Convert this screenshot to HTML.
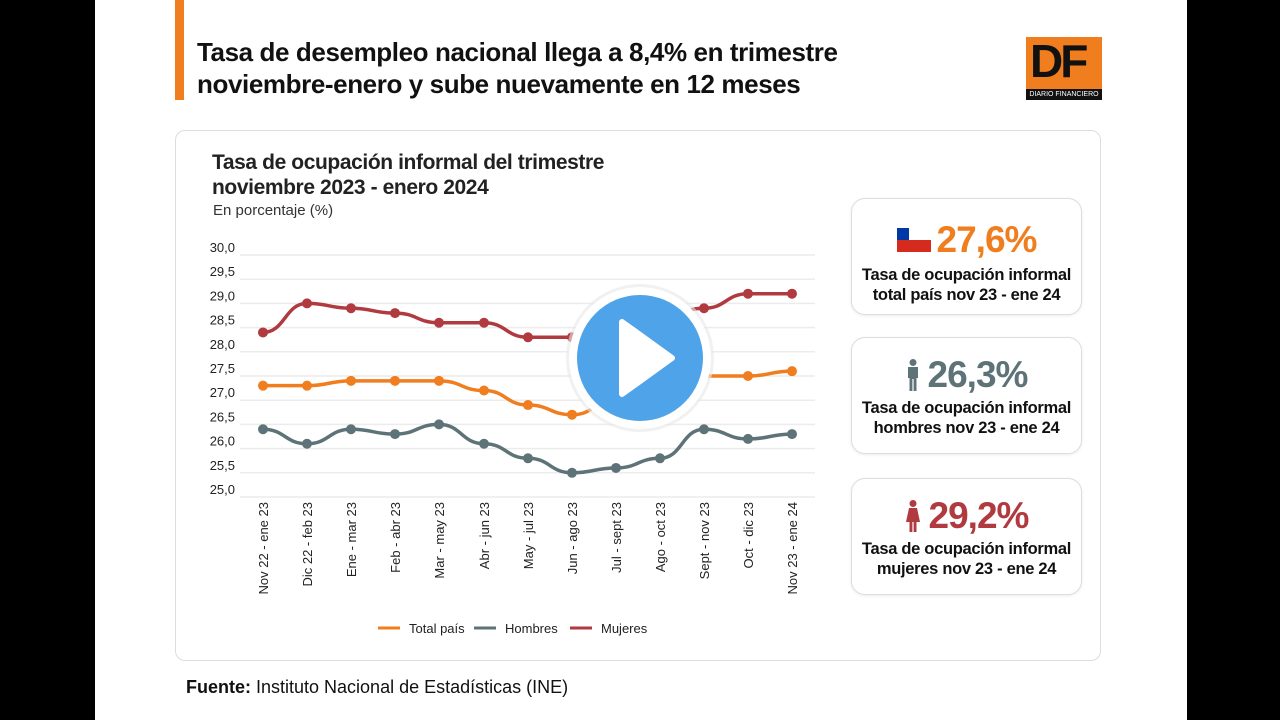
<!DOCTYPE html>
<html><head><meta charset="utf-8"><style>
body{margin:0;width:1280px;height:720px;background:#000;font-family:"Liberation Sans",sans-serif;overflow:hidden}
#pg{position:absolute;left:95px;top:0;width:1092px;height:720px;background:#fff}
.abs{position:absolute}
.box{position:absolute;left:851px;width:229px;border:1.5px solid #ddd;border-radius:14px;background:#fff;text-align:center;box-shadow:0 1px 3px rgba(0,0,0,.08)}
.big{font-size:37px;font-weight:bold;letter-spacing:-1px}
.sm{font-size:16.5px;font-weight:bold;color:#111;line-height:20px;letter-spacing:-0.3px}
</style></head><body>
<div id="pg"></div>
<div class="abs" style="left:175px;top:0;width:9px;height:100px;background:#f07d1e"></div>
<div class="abs" style="left:197px;top:36px;font-size:26px;font-weight:bold;line-height:32px;color:#111;letter-spacing:-0.4px">Tasa de desempleo nacional llega a 8,4% en trimestre<br>noviembre-enero y sube nuevamente en 12 meses</div>
<div class="abs" style="left:1026px;top:37px;width:76px;height:63px;background:#f07d1e"></div>
<div class="abs" style="left:1030px;top:34px;font-size:46px;font-weight:bold;color:#111;letter-spacing:-3px">DF</div>
<div class="abs" style="left:1026px;top:89px;width:76px;height:11px;background:#111;color:#fff;font-size:7px;line-height:11px;text-align:center">DIARIO FINANCIERO</div>
<div class="abs" style="left:175px;top:130px;width:924px;height:529px;border:1.5px solid #ddd;border-radius:10px"></div>
<div class="abs" style="left:212px;top:150px;font-size:21px;font-weight:bold;line-height:25px;color:#222;letter-spacing:-0.4px">Tasa de ocupación informal del trimestre<br>noviembre 2023 - enero 2024</div>
<div class="abs" style="left:213px;top:202px;font-size:15px;color:#333">En porcentaje (%)</div>
<svg class="abs" style="left:0;top:0" width="1280" height="720" id="ch"></svg>
<div class="box" style="top:198px;height:115px"><div style="margin-top:20px"><span style="display:inline-block;width:34px;height:24px;vertical-align:middle;margin-right:6px;position:relative;background:linear-gradient(#fff 50%,#d52b1e 50%)"><span style="position:absolute;left:0;top:0;width:12px;height:12px;background:#0039a6"></span></span><span class="big" style="color:#f07d1e;vertical-align:middle">27,6%</span></div><div class="sm" style="margin-top:4px">Tasa de ocupación informal<br>total país nov 23 - ene 24</div></div>
<div class="box" style="top:337px;height:115px"><div style="margin-top:16px"><svg width="14" height="32" viewBox="0 0 14 32" style="vertical-align:middle;margin-right:8px"><circle cx="7" cy="3.5" r="3.5" fill="#5e7378"/><path d="M2,8 H12 V19 H10.5 V32 H7.6 V20 H6.4 V32 H3.5 V19 H2 Z" fill="#5e7378"/></svg><span class="big" style="color:#5e7378;vertical-align:middle">26,3%</span></div><div class="sm" style="margin-top:2px">Tasa de ocupación informal<br>hombres nov 23 - ene 24</div></div>
<div class="box" style="top:478px;height:115px"><div style="margin-top:16px"><svg width="16" height="32" viewBox="0 0 16 32" style="vertical-align:middle;margin-right:8px"><circle cx="8" cy="3.5" r="3.5" fill="#b03a3f"/><path d="M4,8 H12 L15,22 H11.5 V32 H8.6 V22 H7.4 V32 H4.5 V22 H1 Z" fill="#b03a3f"/></svg><span class="big" style="color:#b03a3f;vertical-align:middle">29,2%</span></div><div class="sm" style="margin-top:2px">Tasa de ocupación informal<br>mujeres nov 23 - ene 24</div></div>
<div class="abs" style="left:186px;top:677px;font-size:18px;color:#111"><b>Fuente:</b> Instituto Nacional de Estadísticas (INE)</div>
<script>
var s='',X=[263,307,351,395,439,484,528,572,616,660,704,748,792];
function Y(v){return 255+(30-v)*48.4}
for(var i=0;i<=10;i++){var v=30-i*0.5,y=Y(v);s+='<line x1="240" x2="815" y1="'+y+'" y2="'+y+'" stroke="#ececec" stroke-width="1.5"/>';s+='<text x="235" y="'+(y-3)+'" text-anchor="end" font-size="13" fill="#222">'+v.toFixed(1).replace('.',',')+'</text>';}
var L=['Nov 22 - ene 23','Dic 22 - feb 23','Ene - mar 23','Feb - abr 23','Mar - may 23','Abr - jun 23','May - jul 23','Jun - ago 23','Jul - sept 23','Ago - oct 23','Sept - nov 23','Oct - dic 23','Nov 23 - ene 24'];
L.forEach(function(t,i){s+='<text transform="translate('+(X[i]+5)+',502) rotate(-90)" text-anchor="end" font-size="13" fill="#222">'+t+'</text>'});
var D=[['#b03a3f',[28.4,29.0,28.9,28.8,28.6,28.6,28.3,28.3,28.5,28.7,28.9,29.2,29.2]],['#f07d1e',[27.3,27.3,27.4,27.4,27.4,27.2,26.9,26.7,27.0,27.3,27.5,27.5,27.6]],['#5e7378',[26.4,26.1,26.4,26.3,26.5,26.1,25.8,25.5,25.6,25.8,26.4,26.2,26.3]]];
D.forEach(function(d){var p=d[1].map(function(v,i){return[X[i],Y(v)]});var path='M'+p[0];for(var i=0;i<p.length-1;i++){var a=p[i],b=p[i+1],m=(a[0]+b[0])/2;path+=' C'+m+','+a[1]+' '+m+','+b[1]+' '+b[0]+','+b[1];}
s+='<path d="'+path+'" fill="none" stroke="'+d[0]+'" stroke-width="3.5"/>';p.forEach(function(q){s+='<circle cx="'+q[0]+'" cy="'+q[1]+'" r="5" fill="'+d[0]+'"/>'});});
[['#f07d1e','Total país',378],['#5e7378','Hombres',474],['#b03a3f','Mujeres',570]].forEach(function(l){s+='<line x1="'+l[2]+'" x2="'+(l[2]+22)+'" y1="628" y2="628" stroke="'+l[0]+'" stroke-width="3"/><text x="'+(l[2]+31)+'" y="633" font-size="13" fill="#222">'+l[1]+'</text>'});
s+='<circle cx="640" cy="358" r="74" fill="#e8e8e8" opacity="0.6"/><circle cx="640" cy="358" r="71" fill="#fff"/><circle cx="640" cy="358" r="63" fill="#4fa3e8"/><path d="M622,322 L672,358 L622,394 Z" fill="#fff" stroke="#fff" stroke-width="6" stroke-linejoin="round"/>';
document.getElementById('ch').innerHTML=s;
</script>
</body></html>
